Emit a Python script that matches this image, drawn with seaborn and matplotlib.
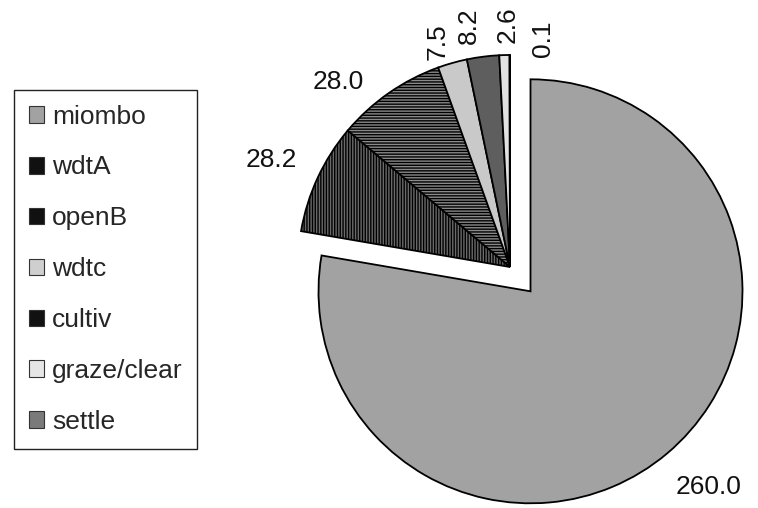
import matplotlib
matplotlib.use("Agg")
import matplotlib.pyplot as plt
import seaborn as sns
import numpy as np
from matplotlib.patches import Patch

# ---- data ----
categories = ["miombo", "wdtA", "openB", "wdtc", "cultiv", "graze/clear", "settle"]
values = [260.0, 28.2, 28.0, 7.5, 8.2, 2.6, 0.1]
value_labels = ["260.0", "28.2", "28.0", "7.5", "8.2", "2.6", "0.1"]

# ---- style ----
sns.set_theme(style="white")
plt.rcParams['font.family'] = ['Liberation Sans', 'DejaVu Sans']
plt.rcParams['hatch.linewidth'] = 1.0

slice_colors = ['#a2a2a2', '#6a6a6a', '#8a8a8a', '#c9c9c9', '#5e5e5e', '#e2e2e2', '#8a8a8a']
slice_hatches = [None, '||||||', '------', None, None, None, None]
legend_colors = ['#a2a2a2', '#111111', '#111111', '#cfcfcf', '#111111', '#e6e6e6', '#7a7a7a']
explode = [0.15, 0, 0, 0, 0, 0, 0]
label_radius = [1.25, 1.235, 1.19, 1.118, 1.156, 1.142, 1.087]
label_nudge = [2.2, 0.8, 8.0, 2.1, 2.3, -1.0, -8.2]
label_rot = [0, 0, 0, 90, 90, 90, 90]
FS = 19

fig = plt.figure(figsize=(7.58, 5.08), dpi=100)
ax = fig.add_axes([0, 0, 1, 1])

wedges, _ = ax.pie(values, colors=slice_colors, explode=explode, startangle=90,
                   counterclock=False, radius=1.0,
                   wedgeprops=dict(edgecolor='black', linewidth=1.3))
for w, h in zip(wedges, slice_hatches):
    if h:
        w.set_hatch(h)

for w, txt, r, dn, rot in zip(wedges, value_labels, label_radius, label_nudge, label_rot):
    mid = np.deg2rad((w.theta1 + w.theta2) / 2 + dn)
    cx, cy = w.center
    ax.text(cx + r * np.cos(mid), cy + r * np.sin(mid), txt, ha='center', va='center',
            rotation=rot, fontsize=FS, color='#111111')

R = 212.0
ax.set_xlim(-510 / R, 248 / R)
ax.set_ylim(-241 / R, 267 / R)
ax.set_aspect('auto')
ax.axis('off')

handles = [Patch(facecolor=c, edgecolor='#333333', linewidth=0.8) for c in legend_colors]
leg = fig.legend(handles, categories, loc='upper left',
                 bbox_to_anchor=(14 / 758, 1 - 90 / 508), frameon=True, fancybox=False,
                 edgecolor='#222222', framealpha=1, fontsize=FS, labelspacing=1.02,
                 handlelength=0.6, handleheight=0.6, handletextpad=0.3,
                 borderpad=0.55, borderaxespad=0)
leg.get_frame().set_linewidth(1.0)

fig.savefig("out.png", dpi=100)
